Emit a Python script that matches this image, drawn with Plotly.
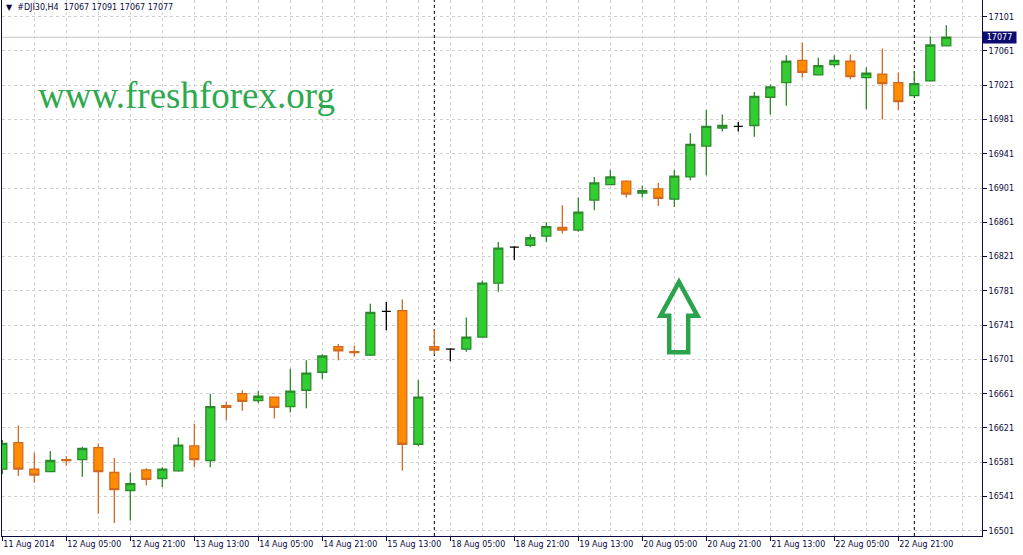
import datetime as dt
import plotly.graph_objects as go

# ---------------- data ----------------
symbol = "#DJI30,H4"
start_time = dt.datetime(2014, 8, 11, 13, 0)
session_hours = [1, 5, 9, 13, 17, 21]

opens = [16573, 16604, 16573, 16570, 16584, 16584, 16598, 16569, 16548, 16572,
         16562, 16571, 16600, 16583, 16647, 16661, 16653, 16657, 16646, 16665,
         16686, 16716, 16710, 16706, 16757, 16758, 16602, 16716, 16713, 16713,
         16727, 16790, 16832, 16834, 16845, 16855, 16852, 16887, 16905, 16909,
         16895, 16900, 16888, 16914, 16950, 16971, 16973, 16974, 17007, 17024,
         17050, 17033, 17045, 17049, 17030, 17034, 17024, 17009, 17026, 17067]
highs = [16607, 16624, 16592, 16594, 16588, 16599, 16603, 16586, 16569, 16574,
         16575, 16610, 16626, 16661, 16652, 16665, 16664, 16657, 16690, 16700,
         16707, 16719, 16717, 16766, 16768, 16771, 16677, 16736, 16714, 16750,
         16793, 16838, 16833, 16847, 16861, 16881, 16890, 16914, 16922, 16910,
         16904, 16907, 16922, 16965, 16992, 16987, 16978, 17013, 17022, 17056,
         17071, 17053, 17056, 17057, 17042, 17064, 17036, 17038, 17078, 17091]
lows = [16567, 16565, 16557, 16570, 16577, 16564, 16521, 16510, 16513, 16554,
        16552, 16570, 16575, 16575, 16630, 16641, 16650, 16632, 16639, 16644,
        16678, 16700, 16704, 16705, 16735, 16571, 16600, 16707, 16699, 16710,
        16727, 16780, 16817, 16832, 16838, 16848, 16850, 16875, 16905, 16890,
        16890, 16880, 16879, 16910, 16916, 16967, 16967, 16961, 16987, 16997,
        17030, 17033, 17042, 17028, 16993, 16981, 16992, 17008, 17025, 17067]
closes = [16603, 16573, 16566, 16583, 16583, 16597, 16570, 16549, 16556, 16561,
          16573, 16601, 16584, 16646, 16645, 16652, 16658, 16645, 16664, 16685,
          16705, 16711, 16709, 16756, 16757, 16602, 16657, 16712, 16713, 16727,
          16790, 16831, 16832, 16843, 16856, 16852, 16873, 16907, 16914, 16894,
          16898, 16889, 16915, 16952, 16973, 16974, 16973, 17008, 17019, 17049,
          17036, 17044, 17050, 17031, 17035, 17023, 17002, 17023, 17068, 17077]

x_tick_labels = ["11 Aug 2014", "12 Aug 05:00", "12 Aug 21:00", "13 Aug 13:00",
                 "14 Aug 05:00", "14 Aug 21:00", "15 Aug 13:00", "18 Aug 05:00",
                 "18 Aug 21:00", "19 Aug 13:00", "20 Aug 05:00", "20 Aug 21:00",
                 "21 Aug 13:00", "22 Aug 05:00", "22 Aug 21:00"]
price_ticks = [16501, 16541, 16581, 16621, 16661, 16701, 16741, 16781,
               16821, 16861, 16901, 16941, 16981, 17021, 17061, 17101]
watermark = "www.freshforex.org"

# ---------------- derived ----------------
n = len(opens)
times = []
t = start_time
while len(times) < n:
    if t.weekday() < 5 and t.hour in session_hours:
        times.append(t)
    t += dt.timedelta(hours=1)
idx = list(range(n))
separators = [i for i in range(1, n) if times[i].weekday() < times[i - 1].weekday()]
label_step = 4
x_tick_vals = [i * label_step for i in range(len(x_tick_labels))]

bull = [i for i in idx if closes[i] > opens[i]]
bear = [i for i in idx if closes[i] < opens[i]]
doji = [i for i in idx if closes[i] == opens[i]]

W, H = 1023, 555
ML, MR, MT, MB = 2, 41, 0, 19
PW, PH = W - ML - MR, H - MT - MB


def px(xp, yp):
    return (xp - ML) / PW, 1 - (yp - MT) / PH


TXT = "#0a0a40"
GRID = "#d0d0d0"
AX_FONT = dict(family="DejaVu Sans", size=8, color=TXT)

fig = go.Figure()


def add_candles(ids, inc_line, inc_fill, dec_line, dec_fill):
    fig.add_trace(go.Candlestick(
        x=ids,
        open=[opens[i] for i in ids],
        high=[highs[i] for i in ids],
        low=[lows[i] for i in ids],
        close=[closes[i] for i in ids],
        increasing=dict(line=dict(color=inc_line, width=1.3), fillcolor=inc_fill),
        decreasing=dict(line=dict(color=dec_line, width=1.3), fillcolor=dec_fill),
        whiskerwidth=0, showlegend=False,
    ))


add_candles(bull, "#2a8a2a", "#33cc33", "#2a8a2a", "#33cc33")
add_candles(bear, "#d2691e", "#ff8c00", "#d2691e", "#ff8c00")
add_candles(doji, "#000000", "#000000", "#000000", "#000000")

shapes = []
# current price line
shapes.append(dict(type="line", xref="paper", x0=0, x1=1, yref="y",
                   y0=closes[-1], y1=closes[-1],
                   line=dict(color="#c8c8c8", width=1), layer="between"))
# period separators
for s in separators:
    shapes.append(dict(type="line", xref="x", x0=s, x1=s, yref="paper", y0=0, y1=1,
                       line=dict(color="#000000", width=1, dash="3px,3px"), layer="between"))
# arrow (decoration)
arrow_px = [(679, 282), (697.5, 315.8), (688.2, 315.8), (688.2, 352.2),
            (669.2, 352.2), (669.2, 315.8), (660.5, 315.8)]
pts = [px(a, b) for a, b in arrow_px]
path = "M " + " L ".join(f"{a:.5f},{b:.5f}" for a, b in pts) + " Z"
shapes.append(dict(type="path", xref="paper", yref="paper", path=path,
                   line=dict(color="#2ba24c", width=4.5), fillcolor="rgba(0,0,0,0)",
                   layer="above"))

annotations = []
wx, wy = px(36, 95)
annotations.append(dict(text=watermark, xref="paper", yref="paper", x=wx, y=wy,
                        xanchor="left", yanchor="middle", showarrow=False,
                        font=dict(family="Liberation Serif", size=37, color="#2ea84f")))
hx, hy = px(4, 7)
header = "▼\u00a0\u00a0" + symbol + "\u00a0\u00a0" + "\u00a0".join(
    str(v) for v in (opens[-1], highs[-1], lows[-1], closes[-1]))
annotations.append(dict(text=header, xref="paper", yref="paper", x=hx, y=hy,
                        xanchor="left", yanchor="middle", showarrow=False,
                        font=dict(family="DejaVu Sans", size=8, color=TXT)))
annotations.append(dict(text=str(closes[-1]), xref="paper", yref="y", x=1, y=closes[-1],
                        xanchor="left", yanchor="middle", showarrow=False,
                        bgcolor="#0b0b70", width=31, height=9, borderpad=1,
                        font=dict(family="DejaVu Sans", size=8, color="#ffffff")))

fig.update_layout(
    width=W, height=H,
    margin=dict(l=ML, r=MR, t=MT, b=MB),
    paper_bgcolor="#ffffff", plot_bgcolor="#ffffff",
    boxgap=0.2, boxgroupgap=0.3,
    shapes=shapes, annotations=annotations,
    xaxis=dict(
        range=[-0.02, 61.23], rangeslider=dict(visible=False),
        tickmode="array", tickvals=x_tick_vals, ticktext=x_tick_labels,
        ticks="outside", ticklen=4, tickcolor=TXT, tickfont=AX_FONT,
        ticklabelposition="outside right",
        showline=True, linecolor=TXT, linewidth=1,
        showgrid=True, gridcolor=GRID, griddash="3px,3px", gridwidth=1,
        minor=dict(tickmode="array", tickvals=list(range(0, 62, 2)), showgrid=True,
                   gridcolor=GRID, griddash="3px,3px", gridwidth=1, ticks=""),
        zeroline=False, fixedrange=True,
    ),
    yaxis=dict(
        side="right", range=[16494.9, 17120.5],
        tickmode="array", tickvals=price_ticks, ticktext=[str(v) for v in price_ticks],
        ticks="outside", ticklen=4, tickcolor=TXT, tickfont=AX_FONT,
        showline=True, mirror=True, linecolor=TXT, linewidth=1,
        showgrid=True, gridcolor=GRID, griddash="3px,3px", gridwidth=1,
        zeroline=False, fixedrange=True,
    ),
)

fig.write_html(
    "out.html",
    config={"displayModeBar": False},
    post_script="document.body.style.margin='0';document.body.style.overflow='hidden';",
)
